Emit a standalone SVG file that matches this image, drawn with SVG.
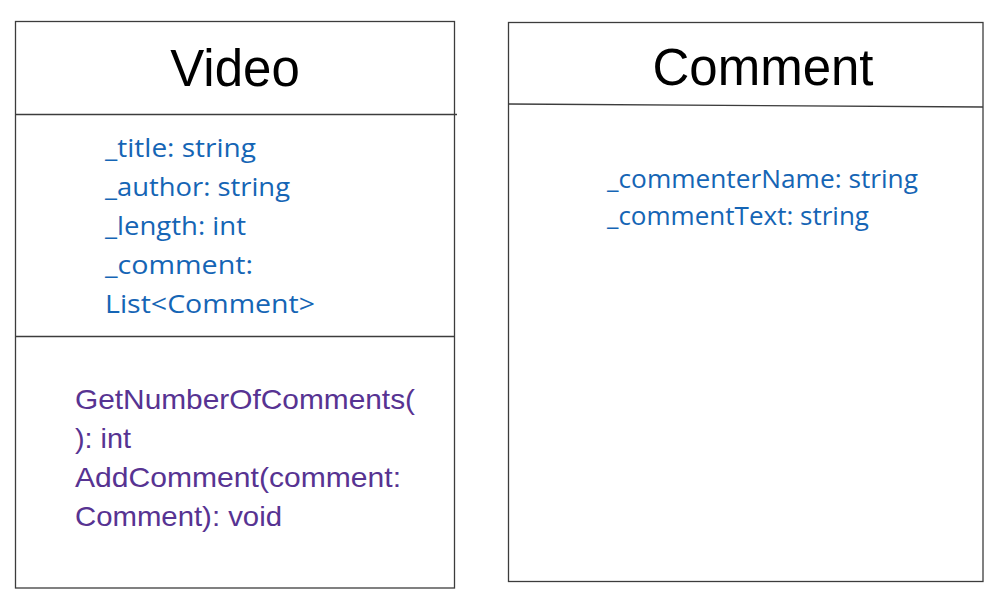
<svg xmlns="http://www.w3.org/2000/svg" width="1008" height="598" viewBox="0 0 1008 598">
  <style>
    .frame { fill: #ffffff; stroke: #3c3c3c; stroke-width: 1.3; }
    .rule { stroke: #3c3c3c; stroke-width: 1.3; fill: none; }
    .title { font-family: "Liberation Sans", Arial, sans-serif; font-size: 51px; fill: #000000; text-anchor: middle; }
    .attr { font-family: "Open Sans", "Liberation Sans", sans-serif; font-size: 26px; fill: #1565b5; }
    .op { font-family: "Liberation Sans", Arial, sans-serif; font-size: 28px; fill: #573392; }
  </style>
  <rect width="1008" height="598" fill="#ffffff"/>

  <!-- Video class -->
  <g id="video">
    <rect class="frame" x="15.5" y="21.5" width="439" height="566.5"/>
    <line class="rule" x1="15.5" y1="114.5" x2="457" y2="114.5"/>
    <line class="rule" x1="15.5" y1="336.5" x2="454.5" y2="336.5"/>
    <text class="title" x="235" y="86">Video</text>
    <text class="attr" x="105" y="157" textLength="151" lengthAdjust="spacingAndGlyphs">_title: string</text>
    <text class="attr" x="105" y="196" textLength="185" lengthAdjust="spacingAndGlyphs">_author: string</text>
    <text class="attr" x="105" y="235" textLength="141" lengthAdjust="spacingAndGlyphs">_length: int</text>
    <text class="attr" x="105" y="274" textLength="148" lengthAdjust="spacingAndGlyphs">_comment:</text>
    <text class="attr" x="105" y="313" textLength="210" lengthAdjust="spacingAndGlyphs">List&lt;Comment&gt;</text>
    <text class="op" x="75" y="409" textLength="340" lengthAdjust="spacingAndGlyphs">GetNumberOfComments(</text>
    <text class="op" x="75" y="448" textLength="56" lengthAdjust="spacingAndGlyphs">): int</text>
    <text class="op" x="75" y="487" textLength="326" lengthAdjust="spacingAndGlyphs">AddComment(comment:</text>
    <text class="op" x="75" y="526" textLength="207" lengthAdjust="spacingAndGlyphs">Comment): void</text>
  </g>

  <!-- Comment class -->
  <g id="comment">
    <rect class="frame" x="508.5" y="22.5" width="474.5" height="559"/>
    <line class="rule" x1="508.5" y1="104" x2="983" y2="107"/>
    <text class="title" x="763" y="85">Comment</text>
    <text class="attr" x="607" y="188" textLength="311" lengthAdjust="spacingAndGlyphs">_commenterName: string</text>
    <text class="attr" x="607" y="225" textLength="262" lengthAdjust="spacingAndGlyphs">_commentText: string</text>
  </g>

  <g id="connectors"/>
</svg>
